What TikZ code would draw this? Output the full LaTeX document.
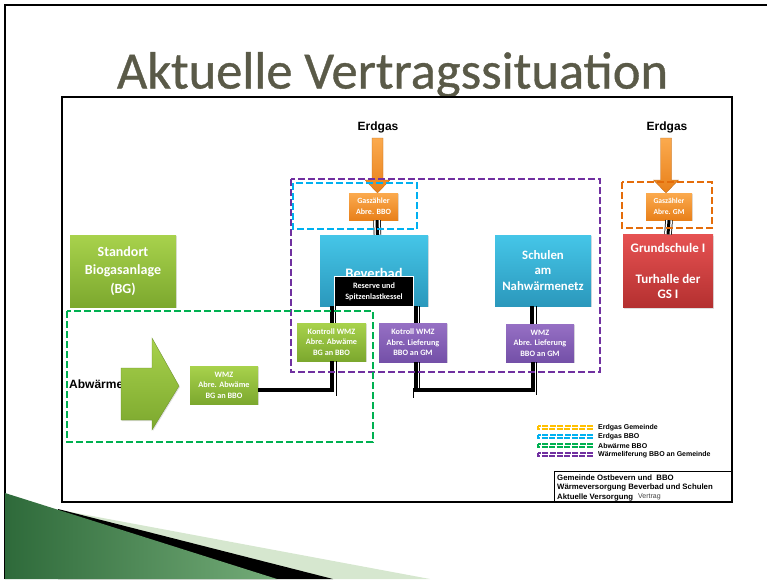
\documentclass[tikz,border=0pt]{standalone}
\usepackage{fontspec}
\setmainfont{Carlito}
\newfontfamily\arialf{Liberation Sans}
\newfontfamily\titlef[FakeBold=0.7]{Carlito}
\usetikzlibrary{calc,shadows}
\definecolor{orT}{HTML}{FBAA4E}
\definecolor{orB}{HTML}{E8801A}
\definecolor{cyT}{HTML}{45C6E8}
\definecolor{cyB}{HTML}{2B98BC}
\definecolor{grT}{HTML}{A8D24C}
\definecolor{grB}{HTML}{7CA82E}
\definecolor{puT}{HTML}{9670C4}
\definecolor{puB}{HTML}{7450A8}
\definecolor{rdT}{HTML}{E65252}
\definecolor{rdB}{HTML}{B43030}
\definecolor{dPur}{HTML}{7030A0}
\definecolor{dCy}{HTML}{00B0F0}
\definecolor{dGr}{HTML}{00B050}
\definecolor{dOr}{HTML}{E46C0A}
\definecolor{dYe}{HTML}{FFC000}
\definecolor{titlec}{HTML}{5A5A48}
\definecolor{decoD}{HTML}{2E6A3A}
\definecolor{decoL}{HTML}{74AC78}
\definecolor{decoP}{HTML}{D6E7CF}
\newcommand{\fsz}[2]{\fontsize{#1}{#2}\selectfont}
\begin{document}
\begin{tikzpicture}[x=1pt,y=-1pt,
  bx/.style={rectangle, inner sep=1pt, align=center, text=white, font=\bfseries,
    drop shadow={shadow xshift=1pt,shadow yshift=-1pt,opacity=0.25}},
  orbx/.style={bx, top color=orT, bottom color=orB},
  cybx/.style={bx, top color=cyT, bottom color=cyB},
  grbx/.style={bx, top color=grT, bottom color=grB},
  pubx/.style={bx, top color=puT, bottom color=puB},
  rdbx/.style={bx, top color=rdT, bottom color=rdB},
  dsh/.style={line width=2.8pt, dash pattern=on 7pt off 3pt},
  conn/.style={line width=3.5pt, draw=black},
  thinl/.style={line width=0.6pt, draw=black},
  barc/.style={line width=7.5pt, draw=black,
    postaction={draw=white, line width=6pt},
    postaction={draw=black, line width=3pt}},
  lbl/.style={font=\arialf\bfseries\fsz{12}{14}, inner sep=0pt},
  leg/.style={font=\arialf\bfseries\fsz{7}{8}, inner sep=0pt, anchor=west},
]
\useasboundingbox (0,0) rectangle (767,579);

% slide frame
\draw[line width=1.8pt] (5,579) -- (5,5) -- (767,5);

% bottom-left decoration
\fill[decoP] (60,510) -- (430,579) -- (60,579) -- cycle;
\fill[black] (58,509) -- (333,579) -- (58,579) -- cycle;
\shade[left color=decoD, right color=decoL] (5,493) -- (277,579) -- (5,579) -- cycle;

% title
\node[font=\titlef\fsz{52.5}{52}, text=titlec, anchor=base] (title) at (392.5,88.5) {Aktuelle Vertragssituation};

% diagram frame
\draw[line width=2pt] (62,97) rectangle (732,502);

% labels Erdgas
\node[lbl] (eg1) at (378,127) {Erdgas};
\node[lbl] (eg2) at (667,127) {Erdgas};

% orange arrows
\foreach \cx in {377.5,666}{
  \shade[top color=orT, bottom color=orB, draw=orB!80!black, line width=0.3pt]
    (\cx-5.5,138) -- (\cx+5.5,138) -- (\cx+5.5,180) -- (\cx+12.5,180) -- (\cx,193)
    -- (\cx-12.5,180) -- (\cx-5.5,180) -- cycle;
}

% boxes
\node[orbx, minimum width=49pt, minimum height=27pt, font=\bfseries\fsz{8}{11}] (gz1) at (373.5,206.5) {Gaszähler\\Abre. BBO};
\node[orbx, minimum width=46pt, minimum height=27pt, font=\bfseries\fsz{7.6}{11}] (gz2) at (669,206.5) {Gaszähler\\Abre. GM};

\node[cybx, minimum width=108pt, minimum height=71pt] (bev) at (374,270.5) {};
\node[text=white, font=\bfseries\fsz{14.5}{16}, inner sep=0pt] (bevt) at (374,273) {Beverbad};
\node[rectangle, fill=black, draw=white, line width=1.5pt, text=white, align=center,
  font=\bfseries\fsz{8.2}{10.7}, minimum width=79pt, minimum height=30pt, inner sep=1pt] (res) at (374,291.5) {Reserve und\\Spitzenlastkessel};

\node[cybx, minimum width=96pt, minimum height=71pt, font=\bfseries\fsz{12.8}{15.5}] (sch) at (543,270.5) {Schulen\\am\\Nahwärmenetz};
\node[grbx, minimum width=106pt, minimum height=72pt, font=\bfseries\fsz{14}{18.5}] (std) at (123,271) {Standort\\Biogasanlage\\(BG)};
\node[rdbx, minimum width=90pt, minimum height=73pt, font=\bfseries\fsz{13}{15.6}] (gs) at (668,271) {Grundschule I\\[15.6pt]Turhalle der\\GS I};

\node[grbx, minimum width=69pt, minimum height=38pt, font=\bfseries\fsz{8.2}{10.6}] (kwmz) at (331.5,342) {Kontroll WMZ\\Abre. Abwäme\\BG an BBO};
\node[pubx, minimum width=68pt, minimum height=39pt, font=\bfseries\fsz{8.2}{10.6}] (kot) at (413,342.5) {Kotroll WMZ\\Abre. Lieferung\\BBO an GM};
\node[pubx, minimum width=68pt, minimum height=38pt, font=\bfseries\fsz{8.2}{10.6}] (wmz2) at (540,343) {WMZ\\Abre. Lieferung\\BBO an GM};

% Abwärme text and big arrow
\node[font=\arialf\bfseries\fsz{12}{14}, anchor=west, inner sep=0pt] (abw) at (69,384) {Abwärme};
\shade[top color=grT, bottom color=grB, draw=grB!85!black, line width=0.3pt,
  drop shadow={shadow xshift=1pt,shadow yshift=-1pt,opacity=0.25}]
  (121,368) -- (152,368) -- (152,338) -- (179,386) -- (152,430) -- (152,420) -- (121,420) -- cycle;
\node[grbx, minimum width=68pt, minimum height=38pt, font=\bfseries\fsz{8.2}{10.6}] (wmz1) at (224,385) {WMZ\\Abre. Abwäme\\BG an BBO};

% connectors
\draw[barc] ([xshift=3.5pt]gz1.south) -- ([xshift=3.5pt]bev.north);
\draw[barc] (gz2.south) -- (gs.north);

\draw[conn] ([xshift=0.5pt]kwmz.north |- bev.south) -- ([xshift=0.5pt]kwmz.north);
\draw[thinl] ([xshift=4pt]kwmz.north |- bev.south) -- ([xshift=4pt]kwmz.north);
\draw[conn] ([xshift=3pt]kot.north |- bev.south) -- ([xshift=3pt]kot.north);
\draw[thinl] ([xshift=6.5pt]kot.north |- bev.south) -- ([xshift=6.5pt]kot.north);
\draw[conn] ([xshift=-8pt]wmz2.north |- sch.south) -- ([xshift=-8pt]wmz2.north);
\draw[thinl] ([xshift=-4pt]wmz2.north |- sch.south) -- ([xshift=-4pt]wmz2.north);

\draw[conn] ([yshift=-5pt]wmz1.east) -| ([xshift=0.5pt]kwmz.south);
\draw[thinl] ([xshift=4.5pt]kwmz.south) -- ++(0,35);
\draw[conn] ([xshift=3pt]kot.south) -- ++(0,28) -| ([xshift=-7pt]wmz2.south);
\draw[thinl] ([xshift=6.5pt]kot.south) -- ++(0,27);
\draw[thinl] ([xshift=0pt]kot.south) ++(0,26) -- ++(0,10);
\draw[thinl] ([xshift=-3.5pt]wmz2.south) -- ++(0,33);

% dashed groups
\draw[dsh, dPur] (291,179) rectangle (600,372);
\draw[dsh, dCy] (293,183) rectangle (417,229);
\draw[dsh, dOr] (622,182) rectangle (712,228);
\draw[dsh, dGr] (67,311) rectangle (373,442);

% legend
\foreach \y/\c in {427.5/dYe,436.5/dCy,445.5/dGr,454.5/dPur}{
  \draw[\c, line width=1.8pt, dash pattern=on 6pt off 1.5pt] (538,\y-1.8) rectangle (592,\y+1.8);
}
\node[leg] (l1) at (598,427.5) {Erdgas Gemeinde};
\node[leg] (l2) at (598,436.5) {Erdgas BBO};
\node[leg] (l3) at (598,445.5) {Abwärme BBO};
\node[leg] (l4) at (598,454.5) {Wärmeliferung BBO an Gemeinde};

% info box
\draw[line width=1pt] (554,502) -- (554,471) -- (732,471);
\node[leg, font=\arialf\bfseries\fsz{7.8}{9}] (i1) at (557,477.5) {Gemeinde Ostbevern und\ \ BBO};
\node[leg, font=\arialf\bfseries\fsz{7.8}{9}] (i2) at (557,487.3) {Wärmeversorgung Beverbad und Schulen};
\node[leg, font=\arialf\bfseries\fsz{7.8}{9}] (i3) at (557,497) {Aktuelle Versorgung};
\node[leg, font=\arialf\fsz{7}{9}, text=black!75] (i4) at (638,497) {Vertrag};
\end{tikzpicture}
\end{document}
